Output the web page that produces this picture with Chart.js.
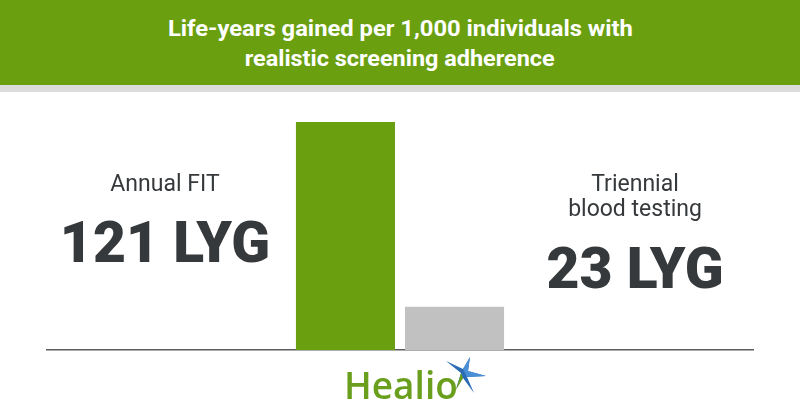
<!DOCTYPE html>
<html>
<head>
<meta charset="utf-8">
<script src="https://cdn.jsdelivr.net/npm/chart.js@4"></script>
<style>
  html, body { margin: 0; padding: 0; background: #fff; }
  #wrap { position: relative; width: 800px; height: 420px; overflow: hidden; }
  #header { position: absolute; left: 0; top: 0; width: 800px; height: 85px; background: #6a9f10; }
  #stripe { position: absolute; left: 0; top: 85px; width: 800px; height: 7px; background: #dcdcdc; }
  .title-line {
    position: absolute; left: 0; width: 800px; text-align: center;
    font-family: Roboto, sans-serif; font-weight: 700; font-size: 22px; color: #fff;
    line-height: 22px; white-space: nowrap;
  }
  .title-line span { display: inline-block; transform-origin: center; }
  #chart { position: absolute; left: 0; top: 0; }
  #logo { position: absolute; left: 0; top: 0; }
</style>
</head>
<body>
<div id="wrap">
  <div id="header"></div>
  <div id="stripe"></div>
  <div class="title-line" id="t1" style="top:18px;"><span>Life-years gained per 1,000 individuals with</span></div>
  <div class="title-line" id="t2" style="top:48px;"><span>realistic screening adherence</span></div>
  <canvas id="chart" width="800" height="420"></canvas>
  <svg id="logo" width="800" height="420" viewBox="0 0 800 420">
    <text x="344" y="399" font-family="Open Sans, sans-serif" font-weight="600" font-size="37" fill="#6a9f1e">Healio</text>
    <polygon points="446,361 463,369 470,357 468,371 486,376 467,377 474,393 463,378 456,389 461,373" fill="#2c6cb6"/>
    <polygon points="463,369 470,357 468,371 486,376 467,377" fill="#4a8fd6"/>
    <polygon points="463,378 456,390 461,373" fill="#6a9f1e"/>
  </svg>
</div>
<script>
  /* 数据 */
  var categories = ['Annual FIT', 'Triennial blood testing'];
  var categoryLines = [['Annual FIT'], ['Triennial', 'blood testing']];
  var lygValues = [121, 23];
  var valueUnit = 'LYG';
  var barColors = ['#6a9f10', '#c1c1c1'];

  /* 标题压缩宽度，模拟窄体字 */
  (function () {
    var targets = { t1: 465, t2: 310 };
    Object.keys(targets).forEach(function (id) {
      var span = document.querySelector('#' + id + ' span');
      var w = span.getBoundingClientRect().width;
      span.style.transform = 'scaleX(' + (targets[id] / w) + ')';
    });
  })();

  /* 两侧的文字说明 */
  var sideLabels = {
    id: 'sideLabels',
    afterDraw: function (chart) {
      var ctx = chart.ctx;
      var blocks = [
        { cx: 165, firstBase: 191, valueBase: 262 },
        { cx: 635, firstBase: 191, valueBase: 288 }
      ];
      ctx.save();
      ctx.fillStyle = '#36393b';
      ctx.textAlign = 'center';
      ctx.textBaseline = 'alphabetic';
      blocks.forEach(function (b, i) {
        ctx.font = '400 23px Roboto, sans-serif';
        categoryLines[i].forEach(function (line, j) {
          ctx.fillText(line, b.cx, b.firstBase + j * 25);
        });
        ctx.font = '900 57px Roboto, sans-serif';
        ctx.fillText(lygValues[i] + ' ' + valueUnit, b.cx, b.valueBase);
      });
      ctx.restore();
    }
  };

  var datasets = categories.map(function (c, i) {
    return {
      label: c,
      data: [lygValues[i]],
      backgroundColor: barColors[i],
      borderWidth: 0,
      categoryPercentage: 0.309,
      barPercentage: 0.908
    };
  });

  new Chart(document.getElementById('chart'), {
    type: 'bar',
    data: { labels: [''], datasets: datasets },
    options: {
      responsive: false,
      animation: false,
      layout: { padding: { left: 47, right: 47, top: 122, bottom: 62 } },
      plugins: { legend: { display: false }, tooltip: { enabled: false } },
      scales: {
        x: {
          grid: { display: false },
          ticks: { display: false },
          border: { color: '#5c5c5c', width: 1.5 }
        },
        y: { display: false, min: 0, max: Math.max.apply(null, lygValues) }
      }
    },
    plugins: [sideLabels]
  });
</script>
</body>
</html>
